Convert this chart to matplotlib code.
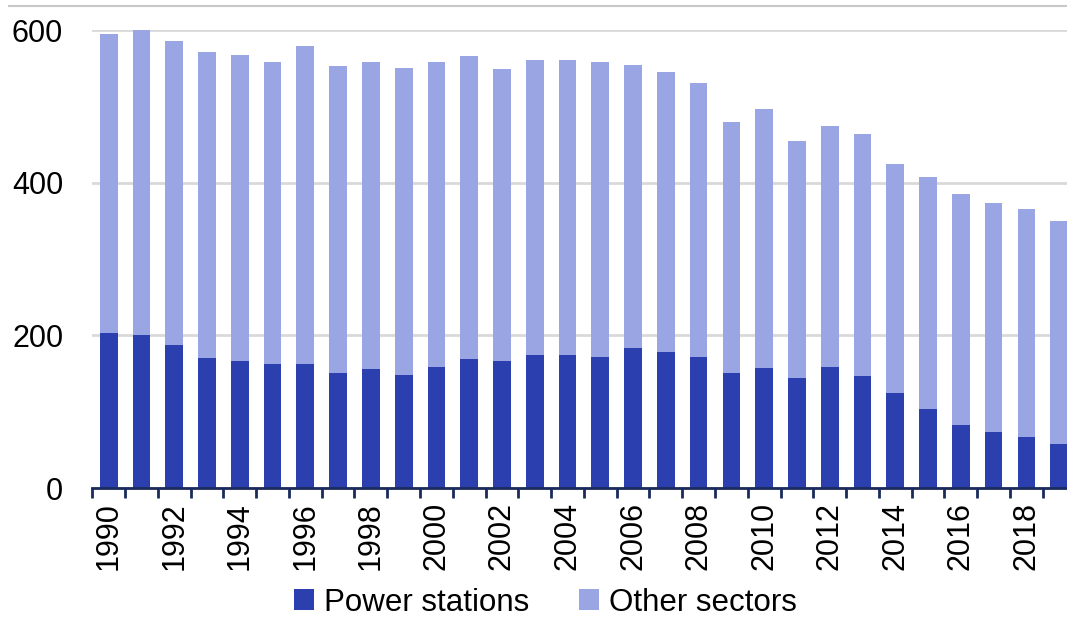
import numpy as np
import matplotlib
matplotlib.use("Agg")
import matplotlib.pyplot as plt
from matplotlib.lines import Line2D

plt.rcParams['font.family'] = ['Liberation Sans', 'DejaVu Sans']

years = list(range(1990, 2020))
totals = [595, 600, 586, 571, 568, 559, 579, 553, 558, 551,
          558, 566, 549, 561, 561, 558, 554, 546, 531, 480,
          497, 455, 474, 464, 425, 408, 385, 373, 366, 350]
power = [203, 200, 188, 171, 166, 163, 163, 151, 156, 148,
         159, 169, 166, 174, 174, 172, 183, 178, 172, 151,
         157, 144, 159, 147, 124, 104, 82, 73, 67, 58]
other = [t - p for t, p in zip(totals, power)]

dark = '#2b3fae'
light = '#9aa6e4'

fig = plt.figure(figsize=(10.67, 6.19), dpi=100)
ax = fig.add_axes([0.0865, 0.2116, 0.9215, 0.7394])

x = np.arange(len(years))
ax.bar(x, power, width=0.54, color=dark, label='Power stations', zorder=3)
ax.bar(x, other, width=0.54, bottom=power, color=light, label='Other sectors', zorder=3)

ax.set_xlim(-0.5, len(years) - 0.5)
ax.set_ylim(0, 600)
ax.set_yticks([0, 200, 400, 600])
ax.yaxis.grid(True, color='#d9d9d9', linewidth=2, zorder=0)
ax.tick_params(axis='y', length=0, pad=21, labelsize=22)

# ticks between categories, labels every other year
ax.set_xticks(np.arange(len(years) + 1) - 0.5)
ax.set_xticklabels([])
ax.set_xticks(x[::2], minor=True)
ax.set_xticklabels([str(y) for y in years[::2]], minor=True, rotation=90, fontsize=22)
ax.tick_params(axis='x', which='major', length=7, width=2, color='#1b2a5c', direction='out')
ax.tick_params(axis='x', which='minor', length=0, pad=10)

for s in ['top', 'right', 'left']:
    ax.spines[s].set_visible(False)
ax.spines['bottom'].set_color('#1b2a5c')
ax.spines['bottom'].set_linewidth(2)
ax.spines['bottom'].set_zorder(4)

fig.add_artist(Line2D([0.008, 1.0], [0.990, 0.990], color='#c8c8c8', linewidth=1.5))

leg = fig.legend(loc='center', bbox_to_anchor=(0.511, 0.026), ncol=2, frameon=False,
                 fontsize=22.5, handlelength=0.65, handleheight=0.65, handletextpad=0.3,
                 columnspacing=1.6, borderaxespad=0)

fig.savefig('out.png', dpi=100)
